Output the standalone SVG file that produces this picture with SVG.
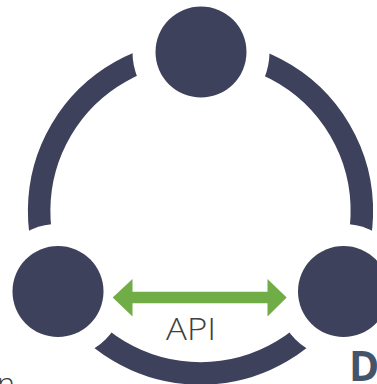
<svg xmlns="http://www.w3.org/2000/svg" width="377" height="384" viewBox="0 0 377 384">
<style>
.node{fill:#3E415B}
.ring{fill:none;stroke:#3E415B;stroke-width:22.5}
.api{fill:#70AD47}
.lbl{font-family:"Open Sans","Liberation Sans",sans-serif;font-weight:300;font-size:30.5px;fill:#404040}
.d{font-family:"Open Sans","Liberation Sans",sans-serif;font-weight:700;font-size:41px;fill:#44546A}
</style>
<defs>
<mask id="gaps" maskUnits="userSpaceOnUse" x="0" y="0" width="377" height="384">
<rect x="0" y="0" width="377" height="384" fill="#fff"/>
<circle cx="201" cy="52" r="68.5" fill="#000"/>
<circle cx="58" cy="291.5" r="67.5" fill="#000"/>
<circle cx="343" cy="291.5" r="67.5" fill="#000"/>
</mask>
</defs>
<g id="connectors" mask="url(#gaps)">
<path class="ring" d="M201,51 A160,160 0 0,0 60,290"/>
<path class="ring" d="M201,51 A160,160 0 0,1 341,290"/>
<path class="ring" d="M60,290 A160,160 0 0,0 341,290"/>
</g>
<g id="api-arrow">
<path class="api" d="M112.7,297.5 L132.5,279 L132.5,291.8 L267.5,291.8 L267.5,279 L286.7,297.5 L267.5,316.5 L267.5,303.2 L132.5,303.2 L132.5,316.5 Z"/>
<text class="lbl" x="166" y="339.5" textLength="50" lengthAdjust="spacingAndGlyphs">API</text>
</g>
<g id="node-top"><circle class="node" cx="201" cy="52" r="45.5"/></g>
<g id="node-left"><circle class="node" cx="58" cy="291.5" r="45.5"/></g>
<g id="node-right"><circle class="node" cx="343.5" cy="291.5" r="45.5"/></g>
<text class="lbl" x="-3" y="395">n</text>
<text class="d" x="349" y="381">D</text>
</svg>
